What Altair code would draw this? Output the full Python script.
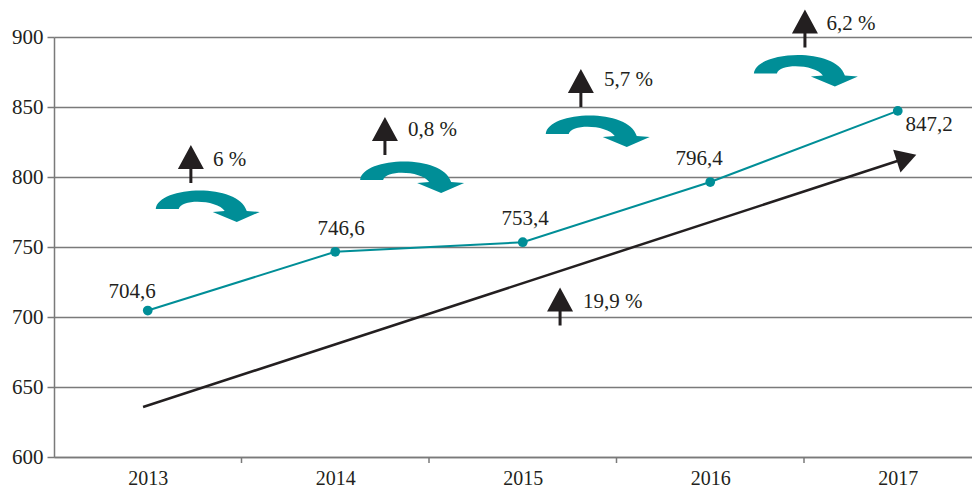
import altair as alt
import pandas as pd

# ---- data ----
years = [2013, 2014, 2015, 2016, 2017]
values = [704.6, 746.6, 753.4, 796.4, 847.2]
value_labels = ["704,6", "746,6", "753,4", "796,4", "847,2"]
label_years = [2012.916, 2014.031, 2015.012, 2015.94, 2017.167]
label_values = [718.2, 762.9, 770.2, 812.9, 837.1]

trend_years = [2012.975, 2017.047]
trend_values = [635.7, 813.6]

growth_texts = ["6 %", "0,8 %", "5,7 %", "6,2 %", "19,9 %"]
growth_arrow_years = [2013.23, 2014.265, 2015.31, 2016.505, 2015.199]
growth_arrow_values = [809.3, 829.3, 863.6, 906.1, 707.5]
growth_text_years = [2013.348, 2014.388, 2015.433, 2016.62, 2015.321]
growth_text_values = [812.1, 833.6, 869.3, 909.3, 710.7]

curve_years = [2013.32, 2014.41, 2015.40, 2016.51]
curve_values = [779.3, 800.0, 832.9, 876.1]

y_ticks = [600, 650, 700, 750, 800, 850, 900]
boundary_years = [2013.5, 2014.5, 2015.5, 2016.5]

# ---- styles ----
TEAL = "#008e97"
BLACK = "#231f20"
GRAY = "#7a7a7a"
FONT = "Liberation Serif"

UP_ARROW = ("M0,-1 L0.684,0.263 L0.079,0.263 L0.079,1 L-0.079,1 "
            "L-0.079,0.263 L-0.684,0.263 Z")
CURVE_ARROW = ("M-1,0.058 C-0.962,-0.385 0.577,-0.462 0.75,0.096 L1,0.115 "
               "L0.558,0.308 L0.096,0.115 L0.327,0.096 "
               "C0.192,-0.115 -0.5,-0.154 -0.558,0.058 Z")

df_main = pd.DataFrame({"year": years, "value": values, "label": value_labels})
df_lab = pd.DataFrame({"year": label_years, "value": label_values, "label": value_labels})
df_trend = pd.DataFrame({"year": trend_years, "value": trend_values})
df_head = df_trend.tail(1)
df_growth_arrow = pd.DataFrame({"year": growth_arrow_years, "value": growth_arrow_values})
df_growth_text = pd.DataFrame({"year": growth_text_years, "value": growth_text_values,
                               "text": growth_texts})
df_curve = pd.DataFrame({"year": curve_years, "value": curve_values})
df_bounds = pd.DataFrame({"year": boundary_years})

W, H = 918, 420
x_scale = alt.Scale(domain=[2012.5, 2012.5 + W / 187.5], nice=False, zero=False)
y_scale = alt.Scale(domain=[600, 900], nice=False, zero=False)

x_axis = alt.Axis(values=years, format="d", title=None, grid=False, ticks=False,
                  tickSize=0, labelFont=FONT, labelFontSize=20, labelColor=BLACK,
                  labelPadding=11, labelFlush=False, labelOverlap=False,
                  domainColor=GRAY, domainWidth=1.5)
y_axis = alt.Axis(values=y_ticks, format="d", title=None, grid=True,
                  gridColor=GRAY, gridWidth=1.5, tickColor=GRAY, tickWidth=1.5,
                  tickSize=7, labelFont=FONT, labelFontSize=21, labelColor=BLACK,
                  labelPadding=4, labelFlush=False, labelOverlap=False,
                  domainColor=GRAY, domainWidth=1.5)

X = alt.X("year:Q", scale=x_scale, axis=x_axis)
Y = alt.Y("value:Q", scale=y_scale, axis=y_axis)

line = alt.Chart(df_main).mark_line(color=TEAL, strokeWidth=2).encode(x=X, y=Y)
pts = alt.Chart(df_main).mark_circle(color=TEAL, size=95, opacity=1).encode(x=X, y=Y)
vlabels = alt.Chart(df_lab).mark_text(font=FONT, fontSize=21, color=BLACK,
                                      align="center", baseline="middle").encode(
    x=X, y=Y, text="label:N")

bounds = alt.Chart(df_bounds).mark_rule(color=GRAY, strokeWidth=1.5).encode(
    x=X, y=alt.value(H), y2=alt.value(H + 6))

trend = alt.Chart(df_trend).mark_line(color=BLACK, strokeWidth=2.5).encode(x=X, y=Y)
head = alt.Chart(df_head).mark_point(shape="triangle-right", angle=342, size=560,
                                     filled=True, color=BLACK, opacity=1,
                                     strokeWidth=0).encode(x=X, y=Y)

up = alt.Chart(df_growth_arrow).mark_point(shape=UP_ARROW, size=1444, filled=True,
                                           color=BLACK, opacity=1,
                                           strokeWidth=0).encode(x=X, y=Y)
gtext = alt.Chart(df_growth_text).mark_text(font=FONT, fontSize=21, color=BLACK,
                                            align="left", baseline="middle").encode(
    x=X, y=Y, text="text:N")

curve = alt.Chart(df_curve).mark_point(shape=CURVE_ARROW, size=10816, filled=True,
                                       color=TEAL, opacity=1,
                                       strokeWidth=0).encode(x=X, y=Y)

chart = alt.layer(line, bounds, trend, head, pts, vlabels, up, gtext, curve).properties(
    width=W, height=H,
    autosize=alt.AutoSizeParams(type="none"),
    padding={"left": 46, "top": 29, "right": 0, "bottom": 32},
).configure(background="white").configure_view(stroke=None)

chart.save("out.html", embed_options={"renderer": "svg", "actions": False})
